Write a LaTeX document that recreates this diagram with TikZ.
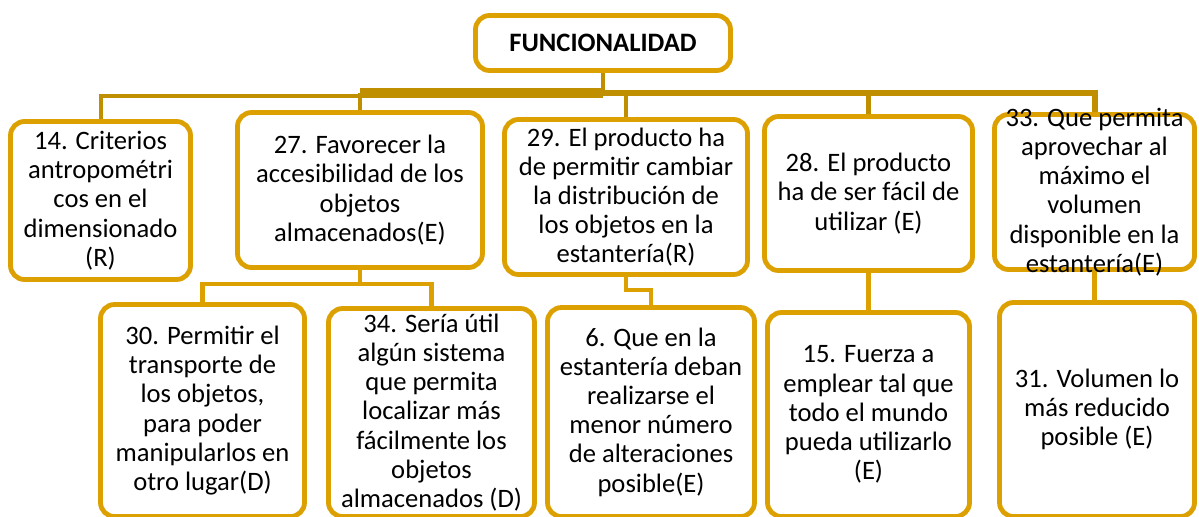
\documentclass[tikz,border=0pt]{standalone}
\usepackage{fontspec}
\setmainfont{Carlito}
\definecolor{boxgold}{RGB}{220,160,0}
\definecolor{busgold}{RGB}{191,143,0}

\begin{document}
\begin{tikzpicture}[x=0.5pt, y=-0.5pt,
  font=\fontsize{13.3}{14.6}\selectfont,
  box/.style={draw=boxgold, line width=2.4pt, rounded corners=7pt, fill=white, inner sep=0pt},
  txt/.style={align=center, inner sep=0pt},
  bus/.style={draw=busgold, line width=2.2pt},
  link/.style={draw=boxgold, line width=2.2pt}]
  \clip (0,0) rectangle (1199,516);
  % --- root ---
  \node[box, minimum width=127.5pt, minimum height=27.5pt,
    font=\fontsize{13.3}{16}\selectfont\bfseries] (top) at (603,43) {FUNCIONALIDAD};
  % --- first row ---
  \node[box, minimum width=90pt, minimum height=79pt,
    label={[txt]center:{14. Criterios\\antropométri\\cos en el\\dimensionado\\(R)}}] (b14) at (100.5,200.5) {};
  \node[box, minimum width=122.5pt, minimum height=77.5pt,
    label={[txt]center:{27. Favorecer la\\accesibilidad de los\\objetos\\almacenados(E)}}] (b27) at (360,190) {};
  \node[box, minimum width=121.5pt, minimum height=77.5pt,
    label={[txt]center:{29. El producto ha\\de permitir cambiar\\la distribución de\\los objetos en la\\estantería(R)}}] (b29) at (626,197) {};
  \node[box, minimum width=104pt, minimum height=77pt,
    label={[txt]center:{28. El producto\\ha de ser fácil de\\utilizar (E)}}] (b28) at (868.5,193.5) {};
  \node[box, minimum width=100pt, minimum height=77.5pt,
    label={[txt]center:{33. Que permita\\aprovechar al\\máximo el\\volumen\\disponible en la\\estantería(E)}}] (b33) at (1094.5,192) {};
  % --- second row ---
  \node[box, minimum width=102pt, minimum height=106pt,
    label={[txt]center:{30. Permitir el\\transporte de\\los objetos,\\para poder\\manipularlos en\\otro lugar(D)}}] (b30) at (202.5,410.5) {};
  \node[box, minimum width=103pt, minimum height=104pt,
    label={[txt]center:{34. Sería útil\\algún sistema\\que permita\\localizar más\\fácilmente los\\objetos\\almacenados (D)}}] (b34) at (431.5,412.5) {};
  \node[box, minimum width=103.5pt, minimum height=104.5pt,
    label={[txt]center:{6. Que en la\\estantería deban\\realizarse el\\menor número\\de alteraciones\\posible(E)}}] (b6) at (651,412) {};
  \node[box, minimum width=101pt, minimum height=102pt,
    label={[txt]center:{15. Fuerza a\\emplear tal que\\todo el mundo\\pueda utilizarlo\\(E)}}] (b15) at (868.5,414.5) {};
  \node[box, minimum width=97.5pt, minimum height=107pt,
    label={[txt]center:{31. Volumen lo\\más reducido\\posible (E)}}] (b31) at (1097,409.5) {};
  % --- bus to first row ---
  \coordinate (hub) at (603,93);
  \draw[bus] (top.south) -- (hub);
  \draw[bus, line width=5pt] (hub) -- (hub -| b27.north);
  \draw[bus] (b27.north) -- (b27.north |- hub);
  \draw[bus, line width=2pt] (b14.north) |- ([yshift=-1.5pt]hub -| b27.north);
  \draw[bus, line width=3pt] (hub) -| (b33.north);
  \draw[bus] (b29.north) -- (b29.north |- hub);
  \draw[bus] (b28.north) -- (b28.north |- hub);
  % --- first row to second row ---
  \coordinate (fork27) at (360,284);
  \coordinate (fork29) at (626,290);
  \draw[link] (b27.south) -- (fork27);
  \draw[link] (b30.north) |- (fork27) -| (b34.north);
  \draw[link] (b29.south) -- (fork29) -| (b6.north);
  \draw[link] (b28.south) -- (b15.north);
  \draw[link] (b33.south) -- (b33.south |- b31.north);
\end{tikzpicture}
\end{document}
